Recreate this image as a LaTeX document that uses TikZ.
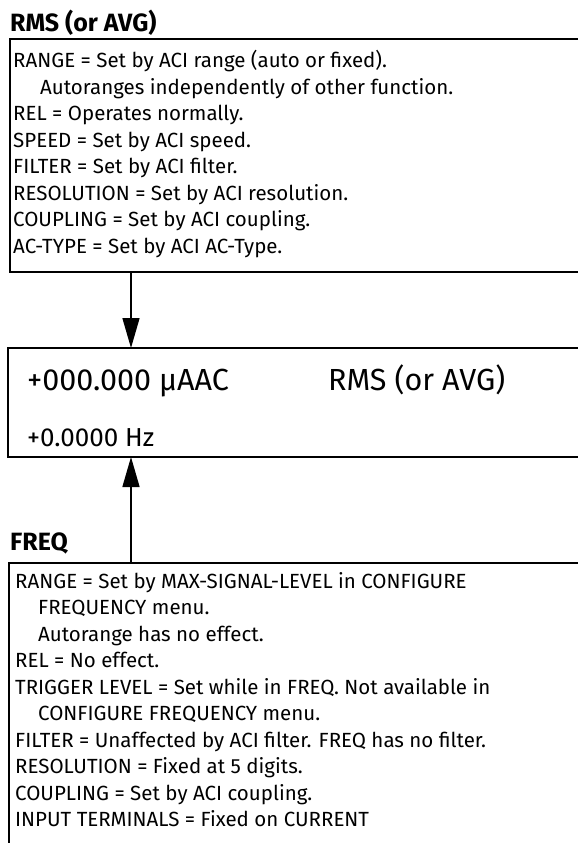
\documentclass[tikz,border=0pt]{standalone}
\usepackage{fontspec}
\IfFontExistsTF{FiraSans-Light.otf}
  {\setmainfont{FiraSans}[Extension=.otf, UprightFont=*-Light, BoldFont=*-SemiBold]}
  {\setmainfont{Fira Sans}}
\usetikzlibrary{arrows.meta}

\tikzset{
  panel/.style={draw, line width=2pt, anchor=north west, inner sep=0pt, outer sep=0pt},
  heading/.style={font=\bfseries\fontsize{25}{28}\selectfont, anchor=base west, inner sep=0pt},
  body/.style={font=\fontsize{20.5}{26.5}\selectfont, align=left, anchor=north west, inner sep=0pt},
  readout/.style={font=\fontsize{30.5}{34}\selectfont, anchor=base west, inner sep=0pt},
  freqout/.style={font=\fontsize{26}{30}\selectfont, anchor=base west, inner sep=0pt},
  link/.style={line width=1.5pt, -{Triangle[length=30pt,width=17pt]}},
}

\begin{document}
\begin{tikzpicture}[x=1pt,y=1pt]
	% page, the boxes run off the right and bottom edges
	\useasboundingbox (0,0) rectangle (578,-843);
	\clip (0,0) rectangle (578,-843);
	% RMS (or AVG) settings
	\node[heading] (rmstitle) at (10,-32) {RMS (or AVG)};
	\node[panel, minimum width=620pt, minimum height=233pt] (rmsbox) at (10,-39) {};
	\node[body] (rmstext) at (13,-50) {RANGE = Set by ACI range (auto or fixed).\\
		\hspace*{27pt}Autoranges independently of other function.\\
		REL = Operates normally.\\
		SPEED = Set by ACI speed.\\
		FILTER = Set by ACI filter.\\
		RESOLUTION = Set by ACI resolution.\\
		COUPLING = Set by ACI coupling.\\
		AC-TYPE = Set by ACI AC-Type.};
	% display
	\node[panel, minimum width=620pt, minimum height=109pt] (dispbox) at (8,-348) {};
	\node[readout] (reading) at (27,-390) {+000.000 µAAC};
	\node[readout] (mode) at (328,-390) {RMS (or AVG)};
	\node[freqout] (hz) at (27,-446) {+0.0000 Hz};
	% FREQ settings
	\node[heading] (freqtitle) at (10,-550) {FREQ};
	\node[panel, minimum width=620pt, minimum height=320pt] (freqbox) at (9,-563) {};
	\node[body] (freqtext) at (15,-572) {RANGE = Set by MAX-SIGNAL-LEVEL in CONFIGURE\\
		\hspace*{23pt}FREQUENCY menu.\\
		\hspace*{23pt}Autorange has no effect.\\
		REL = No effect.\\
		TRIGGER LEVEL = Set while in FREQ. Not available in\\
		\hspace*{23pt}CONFIGURE FREQUENCY menu.\\
		FILTER = Unaffected by ACI filter. FREQ has no filter.\\
		RESOLUTION = Fixed at 5 digits.\\
		COUPLING = Set by ACI coupling.\\
		INPUT TERMINALS = Fixed on CURRENT};
	% arrows into the display
	\draw[link] ([xshift=121pt]rmsbox.south west) coordinate (a) -- (a |- dispbox.north);
	\draw[link] ([xshift=122pt]freqbox.north west) coordinate (b) -- (b |- dispbox.south);
\end{tikzpicture}
\end{document}
